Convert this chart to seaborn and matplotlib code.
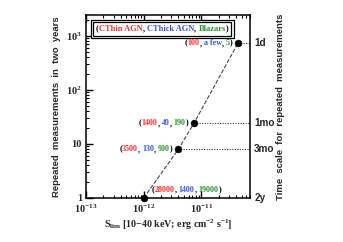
import numpy as np
import matplotlib
matplotlib.use("Agg")
import matplotlib.pyplot as plt
import matplotlib.transforms as mtransforms
from matplotlib.ticker import LogLocator, NullFormatter
from matplotlib.offsetbox import (TextArea, HPacker, PaddedBox, AnchoredOffsetbox,
                                  AnnotationBbox)
import seaborn as sns

# flux limit vs. number of repeated measurements
s_lim = [1e-12, 4e-12, 7.4e-12, 4.3e-11]
n_repeat = [1, 8, 24, 730]
timescale = ["2y", "3mo", "1mo", "1d"]

# source counts (CThin AGN, CThick AGN, Blazars) at each point
cthin = ["28000", "3500", "1400", "100"]
cthick = ["1400", "130", "40", "a few"]
blazars = ["19000", "900", "190", "5"]

RED, BLUE, GREEN = "#ff2a2a", "#3050ff", "#23962d"
SERIF = ["Liberation Serif", "DejaVu Serif"]
SANS = ["Liberation Sans", "DejaVu Sans"]

sns.set_theme(style="ticks")
plt.rcParams.update({
    "font.family": SERIF,
    "mathtext.fontset": "custom",
    "mathtext.rm": "Liberation Serif:bold",
    "mathtext.bf": "Liberation Serif:bold",
    "mathtext.it": "Liberation Serif:bold",
    "axes.axisbelow": False,
})

fig = plt.figure(figsize=(3.43, 2.42), dpi=100)
ax = fig.add_axes([0.251, 0.182, 0.478, 0.756])

# axes set up first: log scales, limits and inward ticks
ax.set_xscale("log")
ax.set_yscale("log")
ax.set_xlim(1e-13, 7e-11)
ax.set_ylim(1, 2450)
ax.set_yticks([1, 10, 100, 1000])
ax.set_xticks([1e-13, 1e-12, 1e-11])
ax.xaxis.set_minor_locator(LogLocator(base=10, subs=np.arange(2, 10), numticks=20))
ax.yaxis.set_minor_locator(LogLocator(base=10, subs=np.arange(2, 10), numticks=20))
ax.tick_params(which="both", direction="in", top=True, bottom=True, left=True,
               right=False, color="black", pad=3)
ax.tick_params(which="major", length=5, width=1.0)
ax.tick_params(which="minor", length=2.5, width=0.8)

df_line = {"x": s_lim, "y": n_repeat}
sns.lineplot(x="x", y="y", data=df_line, ax=ax, color="#444444", lw=0.8,
             dashes=(7, 4), linestyle="--", sort=False)

# dotted guides to the right axis
for xv, yv in zip(s_lim[1:], n_repeat[1:]):
    ax.plot([xv, 7e-11], [yv, yv], color="#333333", lw=0.8, ls=(0, (1, 1.3)))

sns.scatterplot(x=s_lim, y=n_repeat, ax=ax, color="black", s=24,
                edgecolor="black", zorder=5, clip_on=False)

ax.set_xlim(1e-13, 7e-11)
ax.set_ylim(1, 2450)
ax.set_yticks([1, 10, 100, 1000])
ax.set_yticklabels(["1", "10", r"$10^2$", r"$10^3$"])
ax.set_xticks([1e-13, 1e-12, 1e-11])
ax.set_xticklabels([r"$10^{-13}$", r"$10^{-12}$", r"$10^{-11}$"])
ax.xaxis.set_minor_formatter(NullFormatter())
ax.yaxis.set_minor_formatter(NullFormatter())
for lab in ax.get_xticklabels() + ax.get_yticklabels():
    lab.set_fontweight("bold")
    lab.set_fontsize(7.5)
for side in ["left", "right", "top", "bottom"]:
    ax.spines[side].set_linewidth(1.1)
    ax.spines[side].set_color("black")

ax.set_xlabel(r"S$_{\rm lim}$ [10$-$40 keV; erg cm$^{-2}$ s$^{-1}$]",
              fontsize=7.2, fontweight="bold", labelpad=2)
ax.set_ylabel("Repeated  measurements  in  two  years", fontsize=6.8,
              fontweight="bold", family=SANS)
ax.yaxis.set_label_coords(-0.15, 0.5)

# time scale labels on the right side
trans = mtransforms.blended_transform_factory(ax.transAxes, ax.transData)
for yv, lab in zip(n_repeat, timescale):
    ax.text(1.025, yv, lab, transform=trans, ha="left", va="center",
            fontsize=7.2, fontweight="bold", family=SANS)
ax.text(1.185, 0.5, "Time  scale  for  repeated  measurements", transform=ax.transAxes,
        rotation=90, ha="center", va="center", fontsize=6.8, fontweight="bold",
        family=SANS)


def colored_row(parts, size):
    boxes = [TextArea(t, textprops=dict(color=c, fontsize=size, fontweight="bold",
                                        family=SERIF))
             for t, c in parts]
    return HPacker(children=boxes, align="baseline", pad=0, sep=0)


def counts_row(i):
    return colored_row([("(", "black"), (cthin[i], RED), (", ", "black"),
                        (cthick[i], BLUE), (", ", "black"), (blazars[i], GREEN),
                        (")", "black")], 5.8)


# legend-like header box with a double frame
header = colored_row([("(", "black"), ("CThin AGN", RED), (", ", "black"),
                      ("CThick AGN", BLUE), (", ", "black"), ("Blazars", GREEN),
                      (")", "black")], 6.0)
inner = PaddedBox(header, pad=2.2, draw_frame=True,
                  patch_attrs=dict(edgecolor="black", linewidth=0.9, facecolor="white"))
anch = AnchoredOffsetbox(loc="upper left", child=inner, pad=0.15, borderpad=0.3,
                         frameon=True, bbox_to_anchor=(0.0, 1.0),
                         bbox_transform=ax.transAxes)
anch.patch.set_boxstyle("square", pad=0)
anch.patch.set_linewidth(0.9)
anch.patch.set_edgecolor("black")
ax.add_artist(anch)

# labels next to the points
for i in range(1, 4):
    ab = AnnotationBbox(counts_row(i), (s_lim[i], n_repeat[i]),
                        xybox=(-4, 0), boxcoords="offset points",
                        box_alignment=(1, 0.5), frameon=False, pad=0)
    ax.add_artist(ab)
ab = AnnotationBbox(counts_row(0), (s_lim[0], n_repeat[0]),
                    xybox=(6, 3), boxcoords="offset points",
                    box_alignment=(0, 0), frameon=False, pad=0)
ax.add_artist(ab)

fig.savefig("out.png", dpi=100)
